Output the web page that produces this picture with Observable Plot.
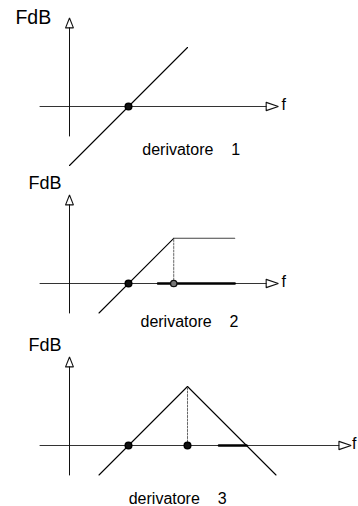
<!DOCTYPE html>
<html><head><meta charset="utf-8">
<script src="https://cdn.jsdelivr.net/npm/d3@7"></script>
<script src="https://cdn.jsdelivr.net/npm/@observablehq/plot@0.6"></script>
<style>
html,body{margin:0;padding:0;background:#fff}
#chart svg{display:block;overflow:visible}
#chart text{white-space:pre}
</style></head><body><div id="chart"></div>
<script>
// ---- data (x: log-frequency units, y: dB units) ----
const panelNames = ["derivatore    1", "derivatore    2", "derivatore    3"];
const yLabel = "FdB";
const xLabel = "f";
const resp1 = [{x: 0, y: -3}, {x: 6, y: 3}];
const resp2 = [{x: 1.5, y: -1.5}, {x: 5.3, y: 2.3}];
const resp2flat = [{x: 5.3, y: 2.3}, {x: 8.4, y: 2.3}];
const resp3 = [{x: 1.5, y: -1.5}, {x: 6, y: 3}, {x: 10.5, y: -1.5}];
const zeros1 = [3];
const zeros2 = [3];
const poles2 = [5.3];
const zeros3 = [3, 6];
const drop2 = [{x: 5.3, y: 0}, {x: 5.3, y: 2.3}];
const drop3 = [{x: 6, y: 0}, {x: 6, y: 3}];
const band2 = [{x: 4.5, y: 0}, {x: 8.4, y: 0}];
const band3 = [{x: 7.6, y: 0}, {x: 9, y: 0}];
const xAxisStart = -1.5;
const xAxisEnds = [10, 10, 13.7];
const yAxisRange = [-1.5, 4];

// ---- layout ----
const heights = [170, 165, 171];
const axisY = [106, 113, 110];
const font = "'Liberation Sans', Arial, Helvetica, sans-serif";
const fdbPos = [{x: -2.75, y: 4.22, s: 19.5}, {x: -2.08, y: 4.83, s: 18}, {x: -2.08, y: 4.78, s: 18}];
const namePos = [{x: 3.7, y: -2.49}, {x: 3.61, y: -2.19}, {x: 3.01, y: -2.95}];
const fGap = [0.78, 0.78, 0.66];

function panel(i, curves, dots, rings, drop, band) {
  const ay = axisY[i];
  const xe = xAxisEnds[i];
  const xAxis = [{x: xAxisStart, y: 0}, {x: xe, y: 0}];
  const xArrow = [{x: xe, y: 0.21}, {x: xe + 0.62, y: 0}, {x: xe, y: -0.21}, {x: xe, y: 0.21}];
  const yAxis = [{x: 0, y: yAxisRange[0]}, {x: 0, y: yAxisRange[1]}];
  const yArrow = [{x: -0.2, y: 4}, {x: 0, y: 4.5}, {x: 0.2, y: 4}, {x: -0.2, y: 4}];
  const marks = [
    Plot.line(xAxis, {x: "x", y: "y", stroke: "#333", strokeWidth: 1}),
    Plot.line(xArrow, {x: "x", y: "y", stroke: "#111", strokeWidth: 1.1, strokeLinejoin: "miter"}),
    Plot.line(yAxis, {x: "x", y: "y", stroke: "#111", strokeWidth: 1}),
    Plot.line(yArrow, {x: "x", y: "y", stroke: "#111", strokeWidth: 1.1, strokeLinejoin: "miter"})
  ];
  if (band) marks.push(Plot.line(band, {x: "x", y: "y", stroke: "#000", strokeWidth: 2.5}));
  for (const c of curves) marks.push(Plot.line(c.data, {x: "x", y: "y", stroke: c.color, strokeWidth: 1.1}));
  if (drop) marks.push(Plot.line(drop, {x: "x", y: "y", stroke: "#666", strokeWidth: 1, strokeDasharray: "2,1.5"}));
  marks.push(Plot.dot(dots, {x: d => d, y: () => 0, r: 3.3, fill: "#111", stroke: "#000"}));
  if (rings) marks.push(Plot.dot(rings, {x: d => d, y: () => 0, r: 3.2, fill: "#777", stroke: "#111", strokeWidth: 1.3}));
  marks.push(
    Plot.text([{...fdbPos[i], t: yLabel}], {x: "x", y: "y", text: "t", textAnchor: "start", lineAnchor: "bottom", fontSize: d => d.s, fill: "#000"}),
    Plot.text([{x: xe + fGap[i], y: -0.2, t: xLabel}], {x: "x", y: "y", text: "t", textAnchor: "start", lineAnchor: "bottom", fontSize: 16, fill: "#000"}),
    Plot.text([{...namePos[i], t: panelNames[i]}], {x: "x", y: "y", text: "t", textAnchor: "start", lineAnchor: "bottom", fontSize: 16, fill: "#000"})
  );
  return Plot.plot({
    width: 358,
    height: heights[i],
    margin: 0,
    style: {fontFamily: font, background: "#fff", overflow: "visible"},
    x: {type: "linear", domain: [0, 3], range: [69, 128], axis: null},
    y: {type: "linear", domain: [0, 3], range: [ay, ay - 59], axis: null},
    marks
  });
}

const root = document.getElementById("chart");
root.append(
  panel(0, [{data: resp1, color: "#000"}], zeros1, null, null, null),
  panel(1, [{data: resp2, color: "#000"}, {data: resp2flat, color: "#444"}], zeros2, poles2, drop2, band2),
  panel(2, [{data: resp3, color: "#000"}], zeros3, null, drop3, band3)
);
</script></body></html>
